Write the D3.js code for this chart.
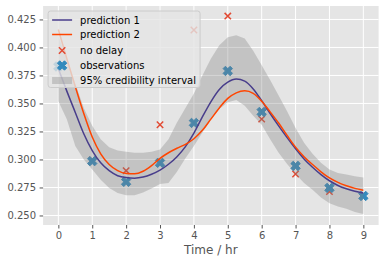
<!DOCTYPE html>
<html lang="en">
<head>
    <meta charset="UTF-8">
    <title>Predictions vs observations</title>
    <script src="https://d3js.org/d3.v7.min.js"></script>
    <style>
        body { margin: 0; background: #fff; }
        svg { display: block; font-family: "DejaVu Sans", sans-serif; }
    </style>
</head>
<body>
    <svg width="384" height="265"></svg>
    <script>
        // Data
        const obsTimes = [0, 1, 2, 3, 4, 5, 6, 7, 8, 9];
        const observations = [0.383, 0.2985, 0.280, 0.297, 0.3326, 0.379, 0.3424, 0.2942, 0.2746, 0.2674];
        const noDelay = [0.383, 0.2995, 0.290, 0.331, 0.4156, 0.428, 0.336, 0.287, 0.2713, 0.268];

        // model curves on a 0.25 hr grid
        const gridTimes = d3.range(0, 9.001, 0.25);
        const prediction1 = [0.381, 0.361, 0.342, 0.323, 0.308, 0.297, 0.290, 0.2855, 0.2838, 0.2833,
            0.2843, 0.2868, 0.2905, 0.2957, 0.3025, 0.3115, 0.3235, 0.338, 0.3515, 0.3625,
            0.369, 0.3718, 0.370, 0.363, 0.3525, 0.341, 0.330, 0.3195, 0.3095, 0.3005,
            0.293, 0.2865, 0.281, 0.2768, 0.2738, 0.2716, 0.270];
        const prediction2 = [0.416, 0.390, 0.365, 0.341, 0.320, 0.305, 0.2955, 0.290, 0.2875, 0.2872,
            0.2895, 0.2945, 0.301, 0.306, 0.310, 0.3135, 0.3185, 0.326, 0.336, 0.346,
            0.3545, 0.3595, 0.3613, 0.359, 0.352, 0.3425, 0.3325, 0.3215, 0.311, 0.3025,
            0.2955, 0.289, 0.2835, 0.2795, 0.2765, 0.2742, 0.2725];
        const intervalLow = [0.352, 0.336, 0.312, 0.300, 0.291, 0.282, 0.2745, 0.270, 0.268, 0.268,
            0.2705, 0.274, 0.278, 0.279, 0.289, 0.301, 0.312, 0.324, 0.336, 0.345,
            0.351, 0.353, 0.348, 0.339, 0.331, 0.318, 0.306, 0.296, 0.287, 0.279,
            0.273, 0.266, 0.261, 0.258, 0.256, 0.253, 0.2513];
        const intervalHigh = [0.410, 0.390, 0.368, 0.346, 0.330, 0.318, 0.311, 0.308, 0.307, 0.306,
            0.306, 0.307, 0.309, 0.318, 0.333, 0.346, 0.359, 0.375, 0.390, 0.402,
            0.409, 0.411, 0.408, 0.397, 0.384, 0.371, 0.357, 0.343, 0.328, 0.315,
            0.305, 0.297, 0.291, 0.288, 0.2865, 0.285, 0.284];

        const xTicks = [0, 1, 2, 3, 4, 5, 6, 7, 8, 9];
        const yTicks = [0.250, 0.275, 0.300, 0.325, 0.350, 0.375, 0.400, 0.425];

        const svg = d3.select("svg");
        const plotLeft = 43.1, plotRight = 378.6, plotTop = 6, plotBottom = 225;

        const x = d3.scaleLinear().domain([-0.45, 9.45]).range([plotLeft, plotRight]);
        const y = d3.scaleLinear().domain([0.2415, 0.437]).range([plotBottom, plotTop]);

        // Background
        svg.append("rect")
            .attr("x", plotLeft).attr("y", plotTop)
            .attr("width", plotRight - plotLeft).attr("height", plotBottom - plotTop)
            .attr("fill", "#e5e5e5");

        // Grid
        svg.append("g").selectAll("line").data(xTicks).enter().append("line")
            .attr("x1", d => x(d)).attr("x2", d => x(d))
            .attr("y1", plotTop).attr("y2", plotBottom)
            .attr("stroke", "#fff").attr("stroke-width", 1);
        svg.append("g").selectAll("line").data(yTicks).enter().append("line")
            .attr("y1", d => y(d)).attr("y2", d => y(d))
            .attr("x1", plotLeft).attr("x2", plotRight)
            .attr("stroke", "#fff").attr("stroke-width", 1);

        // Axes
        const xAxis = svg.append("g")
            .attr("transform", `translate(0,${plotBottom})`)
            .call(d3.axisBottom(x).tickValues(xTicks).tickSize(3.5).tickPadding(3.5).tickFormat(d3.format("d")));
        const yAxis = svg.append("g")
            .attr("transform", `translate(${plotLeft},0)`)
            .call(d3.axisLeft(y).tickValues(yTicks).tickSize(3.5).tickPadding(3.5).tickFormat(d3.format(".3f")));
        [xAxis, yAxis].forEach(a => {
            a.select(".domain").remove();
            a.selectAll("line").attr("stroke", "#555");
            a.selectAll("text").attr("fill", "#555").style("font-size", "10px")
                .style("font-family", "DejaVu Sans, sans-serif");
        });

        svg.append("text")
            .attr("x", (plotLeft + plotRight) / 2).attr("y", 254)
            .attr("text-anchor", "middle")
            .attr("fill", "#555").style("font-size", "12px")
            .text("Time / hr");

        // Markers
        const xMark = h => `M${-h},${-h}L${h},${h}M${-h},${h}L${h},${-h}`;
        const bigX = (s) => {
            const pts = [[-1, -3], [1, -3], [1, -1], [3, -1], [3, 1], [1, 1], [1, 3], [-1, 3], [-1, 1], [-3, 1], [-3, -1], [-1, -1]];
            return "M" + pts.map(([a, b]) => [((a - b) / Math.SQRT2) * s / 6, ((a + b) / Math.SQRT2) * s / 6].join(",")).join("L") + "Z";
        };

        const obsData = obsTimes.map((t, i) => ({ t, v: observations[i], n: noDelay[i] }));

        svg.append("g").selectAll("path").data(obsData).enter().append("path")
            .attr("transform", d => `translate(${x(d.t)},${y(d.n)})`)
            .attr("d", xMark(3.2))
            .attr("stroke", "#E24A33").attr("stroke-width", 1.5).attr("fill", "none");

        svg.append("g").selectAll("path").data(obsData).enter().append("path")
            .attr("transform", d => `translate(${x(d.t)},${y(d.v)})`)
            .attr("d", bigX(10))
            .attr("fill", "#348ABD").attr("stroke", "#348ABD").attr("stroke-width", 1);

        // Credibility band
        const band = gridTimes.map((t, i) => ({ t, lo: intervalLow[i], hi: intervalHigh[i] }));
        svg.append("path")
            .datum(band)
            .attr("fill", "#808080").attr("fill-opacity", 0.33)
            .attr("d", d3.area().x(d => x(d.t)).y0(d => y(d.lo)).y1(d => y(d.hi)));

        // Prediction lines
        const line = d3.line().x(d => x(d[0])).y(d => y(d[1])).curve(d3.curveMonotoneX);
        svg.append("path")
            .datum(gridTimes.map((t, i) => [t, prediction1[i]]))
            .attr("d", line).attr("fill", "none")
            .attr("stroke", "#483D8B").attr("stroke-width", 1.5);
        svg.append("path")
            .datum(gridTimes.map((t, i) => [t, prediction2[i]]))
            .attr("d", line).attr("fill", "none")
            .attr("stroke", "#FF4500").attr("stroke-width", 1.5);

        // Legend
        const lg = svg.append("g");
        lg.append("rect")
            .attr("x", 48.1).attr("y", 11).attr("width", 152).attr("height", 76.5)
            .attr("rx", 2.5)
            .attr("fill", "#e5e5e5").attr("fill-opacity", 0.8)
            .attr("stroke", "#ccc").attr("stroke-width", 1);

        const legendItems = [
            { label: "prediction 1", kind: "line", color: "#483D8B", cy: 20 },
            { label: "prediction 2", kind: "line", color: "#FF4500", cy: 34.5 },
            { label: "no delay", kind: "x", color: "#E24A33", cy: 50.5 },
            { label: "observations", kind: "X", color: "#348ABD", cy: 65.5 },
            { label: "95% credibility interval", kind: "patch", color: "#808080", cy: 80.5 }
        ];
        const hx0 = 52.1, hx1 = 72.1;
        legendItems.forEach(it => {
            if (it.kind === "line") {
                lg.append("line").attr("x1", hx0).attr("x2", hx1).attr("y1", it.cy).attr("y2", it.cy)
                    .attr("stroke", it.color).attr("stroke-width", 1.5);
            } else if (it.kind === "x") {
                lg.append("path").attr("transform", `translate(${(hx0 + hx1) / 2},${it.cy})`)
                    .attr("d", xMark(3.2)).attr("stroke", it.color).attr("stroke-width", 1.5).attr("fill", "none");
            } else if (it.kind === "X") {
                lg.append("path").attr("transform", `translate(${(hx0 + hx1) / 2},${it.cy})`)
                    .attr("d", bigX(10)).attr("fill", it.color).attr("stroke", it.color).attr("stroke-width", 1);
            } else {
                lg.append("rect").attr("x", hx0).attr("y", it.cy - 3.5).attr("width", 20).attr("height", 7)
                    .attr("fill", it.color).attr("fill-opacity", 0.33);
            }
            lg.append("text")
                .attr("x", 80.1).attr("y", it.cy + 3.6)
                .attr("fill", "#000").style("font-size", "10px")
                .text(it.label);
        });
    </script>
</body>
</html>
